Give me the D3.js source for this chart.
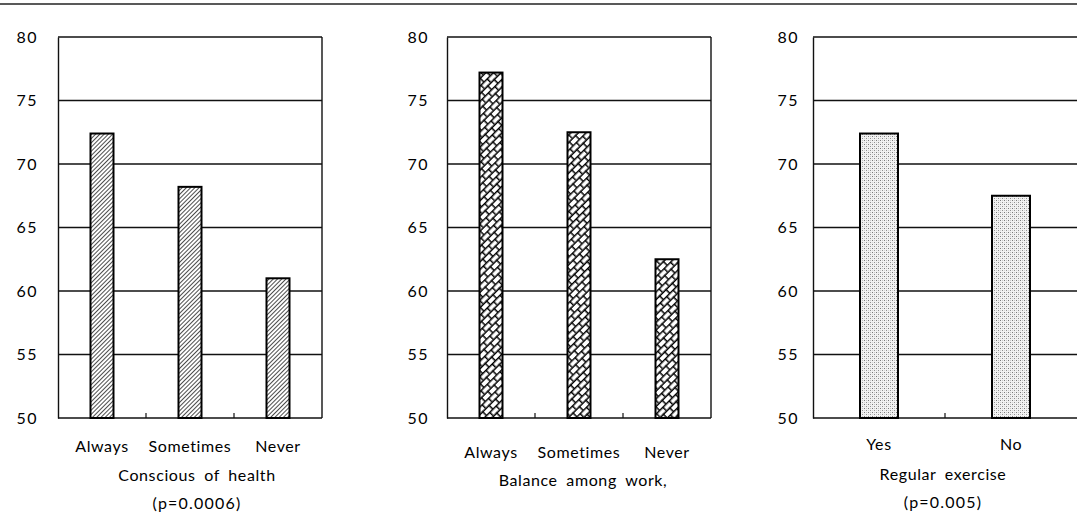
<!DOCTYPE html>
<html>
<head>
<meta charset="utf-8">
<script src="https://cdn.jsdelivr.net/npm/d3@7"></script>
<style>
  html, body { margin: 0; padding: 0; background: #fff; }
  svg { display: block; }
  text { font-family: "Lato", "Open Sans", sans-serif; fill: #000; }
</style>
</head>
<body>
<svg id="chart" width="1077" height="521"></svg>
<script>
// ---- data ----
const healthCategories = ["Always", "Sometimes", "Never"];
const healthValues = [72.4, 68.2, 61.0];
const balanceCategories = ["Always", "Sometimes", "Never"];
const balanceValues = [77.2, 72.5, 62.5];
const exerciseCategories = ["Yes", "No"];
const exerciseValues = [72.4, 67.5];
const yTickValues = [50, 55, 60, 65, 70, 75, 80];
const titles1 = ["Conscious of health", "(p=0.0006)"];
const titles2 = ["Balance among work,"];
const titles3 = ["Regular exercise", "(p=0.005)"];

// ---- layout ----
const W = 1077, H = 521;
const svg = d3.select("#chart");
const defs = svg.append("defs");

// diagonal hatch
const p1 = defs.append("pattern").attr("id", "hatch").attr("patternUnits", "userSpaceOnUse")
  .attr("width", 3).attr("height", 3).attr("patternTransform", "rotate(45)");
p1.append("rect").attr("width", 3).attr("height", 3).attr("fill", "#fff");
p1.append("line").attr("x1", 0).attr("y1", 0).attr("x2", 0).attr("y2", 3)
  .attr("stroke", "#000").attr("stroke-width", 1.4);

// diagonal brick
const bw = 9, bh = 5.4;
const p2 = defs.append("pattern").attr("id", "brick").attr("patternUnits", "userSpaceOnUse")
  .attr("width", bw).attr("height", bh * 2).attr("patternTransform", "rotate(-45)");
p2.append("rect").attr("width", bw).attr("height", bh * 2).attr("fill", "#fff");
[[0, 0.7, bw, 0.7], [0, bh + 0.7, bw, bh + 0.7], [0.7, 0, 0.7, bh], [bw / 2 + 0.7, bh, bw / 2 + 0.7, bh * 2]]
  .forEach(s => p2.append("line").attr("x1", s[0]).attr("y1", s[1]).attr("x2", s[2]).attr("y2", s[3])
    .attr("stroke", "#000").attr("stroke-width", 1.5));

// stipple
const p3 = defs.append("pattern").attr("id", "dots").attr("patternUnits", "userSpaceOnUse")
  .attr("width", 4).attr("height", 4);
p3.append("rect").attr("width", 4).attr("height", 4).attr("fill", "#f2f2f2");
p3.append("rect").attr("x", 0).attr("y", 0).attr("width", 1).attr("height", 1).attr("fill", "#7a7a7a");
p3.append("rect").attr("x", 2).attr("y", 2).attr("width", 1).attr("height", 1).attr("fill", "#909090");
p3.append("rect").attr("x", 2).attr("y", 0).attr("width", 1).attr("height", 1).attr("fill", "#c8c8c8");
p3.append("rect").attr("x", 0).attr("y", 2).attr("width", 1).attr("height", 1).attr("fill", "#d4d4d4");

// top rule
svg.append("line").attr("x1", 0).attr("x2", W).attr("y1", 4).attr("y2", 4)
  .attr("stroke", "#222").attr("stroke-width", 1.4);

const panels = [
  { cats: healthCategories, vals: healthValues, left: 58, right: 322, barW: 23, fill: "url(#hatch)", labelPad: 20, titles: titles1, rightBorder: true, catY: 452, titleY: 481, titleDx: 7 },
  { cats: balanceCategories, vals: balanceValues, left: 447, right: 711, barW: 23, fill: "url(#brick)", labelPad: 18, titles: titles2, rightBorder: true, catY: 458, titleY: 486, titleDx: 4 },
  { cats: exerciseCategories, vals: exerciseValues, left: 813, right: 1077, barW: 38, fill: "url(#dots)", labelPad: 14, titles: titles3, rightBorder: false, catY: 450, titleY: 480, titleDx: -2 }
];

const y = d3.scaleLinear().domain([50, 80]).range([418, 37]);

panels.forEach(p => {
  const g = svg.append("g");
  const x = d3.scaleBand().domain(p.cats).range([p.left, p.right]).padding(0);

  g.selectAll("line.grid").data(yTickValues).join("line")
    .attr("class", "grid")
    .attr("x1", p.left).attr("x2", p.right)
    .attr("y1", d => y(d)).attr("y2", d => y(d))
    .attr("stroke", "#111").attr("stroke-width", 1.4);

  const ax = g.append("g").attr("transform", `translate(${p.left},0)`)
    .call(d3.axisLeft(y).tickValues(yTickValues).tickSize(0).tickPadding(p.labelPad));
  ax.select(".domain").attr("stroke", "#111").attr("stroke-width", 1.4);
  ax.selectAll("text").style("font-size", "16px").style("letter-spacing", "1.5px")
    .style("font-family", "Lato, sans-serif").attr("fill", "#000");

  if (p.rightBorder) {
    g.append("line").attr("x1", p.right).attr("x2", p.right).attr("y1", y(80)).attr("y2", y(50))
      .attr("stroke", "#111").attr("stroke-width", 1.4);
  }

  const bounds = p.cats.slice(1).map(c => x(c));
  g.selectAll("line.sep").data(bounds).join("line")
    .attr("x1", d => d).attr("x2", d => d)
    .attr("y1", y(50)).attr("y2", y(50) - 5)
    .attr("stroke", "#111").attr("stroke-width", 1.2);

  g.selectAll("rect.bar").data(p.cats.map((c, i) => ({ c, v: p.vals[i] }))).join("rect")
    .attr("class", "bar")
    .attr("x", d => x(d.c) + x.bandwidth() / 2 - p.barW / 2)
    .attr("width", p.barW)
    .attr("y", d => y(d.v))
    .attr("height", d => y(50) - y(d.v))
    .attr("fill", p.fill)
    .attr("stroke", "#000").attr("stroke-width", 2);

  g.selectAll("text.cat").data(p.cats).join("text")
    .attr("class", "cat")
    .attr("x", d => x(d) + x.bandwidth() / 2)
    .attr("y", p.catY)
    .attr("text-anchor", "middle")
    .style("font-size", "16px").style("letter-spacing", "0.6px")
    .text(d => d);

  const cx = (p.left + p.right) / 2 + p.titleDx;
  p.titles.forEach((t, i) => {
    g.append("text")
      .attr("x", cx).attr("y", p.titleY + i * 28)
      .attr("text-anchor", "middle")
      .style("font-size", "16px").style("letter-spacing", i === 0 ? "0.6px" : "1.2px").style("word-spacing", "4px")
      .text(t);
  });
});
</script>
</body>
</html>
